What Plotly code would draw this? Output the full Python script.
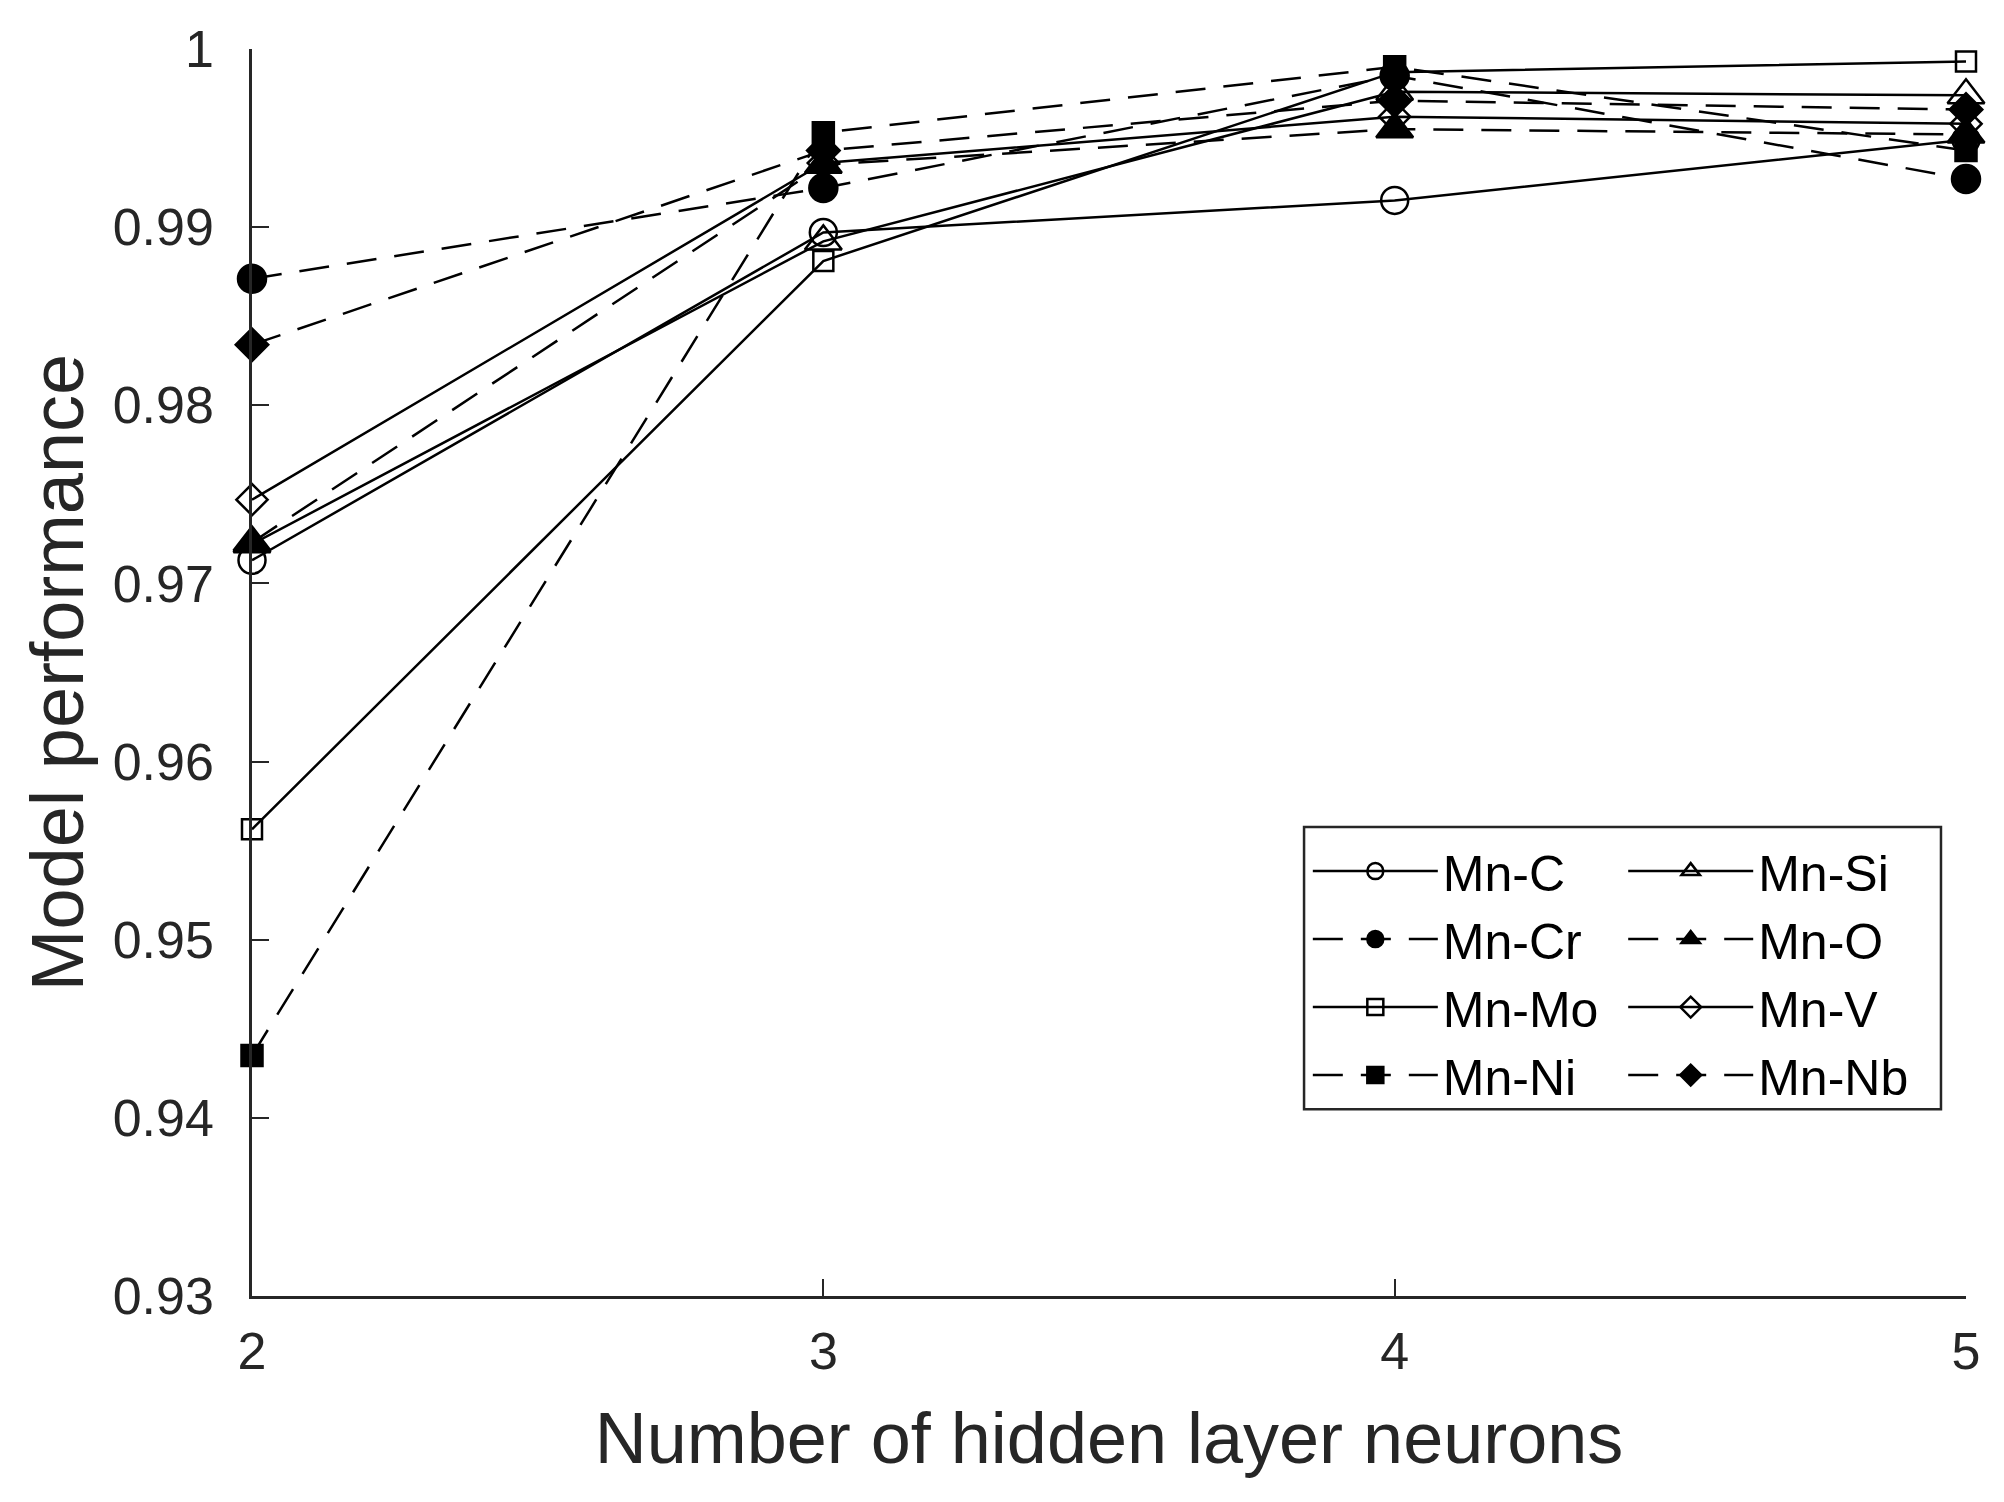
import plotly.graph_objects as go

neurons = [2, 3, 4, 5]

series_names = ["Mn-C", "Mn-Si", "Mn-Cr", "Mn-O", "Mn-Mo", "Mn-V", "Mn-Ni", "Mn-Nb"]

mn_c  = [0.9713, 0.9897, 0.9915, 0.9949]
mn_si = [0.9722, 0.9892, 0.9976, 0.9974]
mn_cr = [0.9871, 0.9922, 0.9985, 0.9927]
mn_o  = [0.9723, 0.9935, 0.9955, 0.9952]
mn_mo = [0.9562, 0.9881, 0.9987, 0.9993]
mn_v  = [0.9747, 0.9936, 0.9962, 0.9958]
mn_ni = [0.9435, 0.9953, 0.9990, 0.9943]
mn_nb = [0.9834, 0.9943, 0.9971, 0.9966]

values = [mn_c, mn_si, mn_cr, mn_o, mn_mo, mn_v, mn_ni, mn_nb]

styles = {
    "Mn-C":  dict(symbol="circle-open",      size=27, dash="solid",     legend="legend"),
    "Mn-Si": dict(symbol="triangle-up-open", size=32, dash="solid",     legend="legend2"),
    "Mn-Cr": dict(symbol="circle",           size=28, dash="30px,18px", legend="legend"),
    "Mn-O":  dict(symbol="triangle-up",      size=32, dash="30px,18px", legend="legend2"),
    "Mn-Mo": dict(symbol="square-open",      size=20, dash="solid",     legend="legend"),
    "Mn-V":  dict(symbol="diamond-open",     size=24, dash="solid",     legend="legend2"),
    "Mn-Ni": dict(symbol="square",           size=21, dash="30px,18px", legend="legend"),
    "Mn-Nb": dict(symbol="diamond",          size=25, dash="30px,18px", legend="legend2"),
}

INK = "#000000"
AX = "#262626"
FONT = "Liberation Sans, Arial, sans-serif"

fig = go.Figure()
for name, ys in zip(series_names, values):
    st = styles[name]
    fig.add_trace(go.Scatter(
        x=neurons, y=ys, name=name, mode="lines+markers",
        legend=st["legend"], cliponaxis=False,
        line=dict(color=INK, width=2.5, dash=st["dash"]),
        marker=dict(symbol=st["symbol"], size=st["size"], color=INK,
                    line=dict(color=INK, width=2.5)),
    ))

legend_common = dict(
    orientation="v", yanchor="top", xanchor="left",
    bgcolor="rgba(0,0,0,0)", borderwidth=0,
    font=dict(family=FONT, size=50, color=INK),
    itemwidth=125, tracegroupgap=0, itemsizing="trace",
)

# legend frame (paper coordinates)
fig.add_shape(type="rect", xref="paper", yref="paper",
              x0=0.6138, x1=0.9854, y0=0.1497, y1=0.3761,
              line=dict(color=AX, width=2.5), fillcolor="white", layer="above")

fig.update_layout(
    width=2004, height=1502,
    margin=dict(l=244, r=46, t=38, b=214),
    paper_bgcolor="white", plot_bgcolor="white",
    font=dict(family=FONT, color=AX, size=52),
    showlegend=True,
    legend=dict(x=0.616, y=0.372, **legend_common),
    legend2=dict(x=0.800, y=0.372, **legend_common),
    xaxis=dict(
        range=[2, 5], tickvals=neurons, ticktext=[str(n) for n in neurons],
        showgrid=False, zeroline=False, showline=True, linecolor=AX, linewidth=2.5,
        ticks="inside", ticklen=17, tickwidth=2, tickcolor=AX,
        tickfont=dict(size=52, color=AX, family=FONT), ticklabelstandoff=8,
        title=dict(text="Number of hidden layer neurons", font=dict(size=72, color=AX, family=FONT), standoff=34),
        mirror=False,
    ),
    yaxis=dict(
        range=[0.93, 1], tickvals=[0.93, 0.94, 0.95, 0.96, 0.97, 0.98, 0.99, 1],
        ticktext=["0.93", "0.94", "0.95", "0.96", "0.97", "0.98", "0.99", "1"],
        showgrid=False, zeroline=False, showline=True, linecolor=AX, linewidth=2.5,
        ticks="inside", ticklen=17, tickwidth=2, tickcolor=AX,
        tickfont=dict(size=52, color=AX, family=FONT), ticklabelstandoff=25,
        title=dict(text="Model performance", font=dict(size=74, color=AX, family=FONT), standoff=5),
        mirror=False,
    ),
)

fig.write_html("out.html")
